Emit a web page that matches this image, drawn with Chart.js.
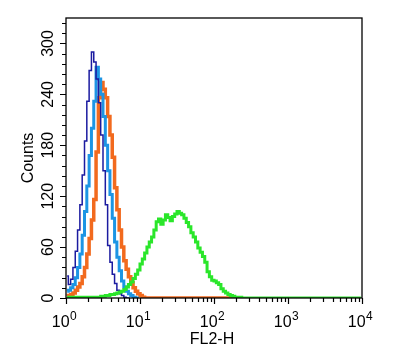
<!DOCTYPE html>
<html>
<head>
<meta charset="utf-8">
<script src="https://cdn.jsdelivr.net/npm/chart.js@4"></script>
<style>
  body { margin: 0; background: #fff; }
  #box { width: 400px; height: 354px; }
</style>
</head>
<body>
<div id="box"><canvas id="histo" width="400" height="354"></canvas></div>
<script>
const BINS_PER_DECADE = 32;
const NUM_BINS = 128;

// counts per channel, starting at channel 0 (FL2-H = 10^0)
const navyCounts = [26, 16, 22, 36, 55, 80, 110, 145, 185, 232, 268, 290, 278, 258, 230, 192,
  150, 110, 62, 42, 28, 17, 9, 5, 3, 1, 0, 0];
const lightBlueCounts = [8, 9, 12, 16, 24, 36, 52, 74, 102, 132, 168, 200, 232, 272, 258, 240,
  214, 180, 150, 122, 94, 66, 48, 32, 20, 13, 8, 5, 3, 1, 0, 0];
const orangeCounts = [2, 3, 4, 6, 9, 13, 17, 25, 36, 52, 70, 92, 116, 172, 236, 254,
  246, 236, 214, 192, 166, 130, 104, 80, 60, 44, 34, 25, 18, 12, 8, 5,
  3, 1, 0, 0, 0, 0, 0, 0, 0, 0, 0, 0, 0, 0, 0, 0,
  0, 0, 0, 0, 0, 0, 0, 0, 0, 0, 0, 0, 0, 0, 0, 0,
  0, 0, 0, 0, 0, 0, 0, 0, 0, 0];
const greenCounts = [1, 1, 1, 1, 1, 1, 1, 1, 1, 1, 1, 1, 1, 1, 1, 2,
  2, 3, 3, 4, 4, 5, 6, 7, 8, 10, 13, 16, 19, 23, 28, 33,
  40, 46, 53, 60, 66, 72, 80, 90, 93, 87, 92, 98, 95, 91, 96, 99,
  102, 100, 98, 94, 89, 84, 77, 72, 66, 59, 54, 49, 42, 31, 25, 21,
  20, 18, 16, 11, 8, 6, 4, 3, 2, 1, 1, 1, 0, 0, 0, 0,
  0, 0, 0, 0, 0, 0, 0, 0, 0, 0, 0, 0, 0, 0, 0, 0,
  0, 0, 0, 0, 0, 0, 0, 0, 0, 0, 0, 0, 0, 0, 0, 0,
  0, 0, 0, 0, 0, 0, 0, 0, 0, 0, 0, 0, 0, 0, 0, 0];

const xDecades = [1, 10, 100, 1000, 10000];
const xExponents = ['0', '1', '2', '3', '4'];
const yTicks = [0, 60, 120, 180, 240, 300];
const yMinorStep = 12;
const yMax = 330;

const channels = [];
for (let i = 0; i < NUM_BINS; i++) {
  channels.push(Math.pow(10, (i + 0.5) / BINS_PER_DECADE));
}
function toPoints(counts) {
  return counts.map((c, i) => ({ x: channels[i], y: c }));
}

const FONT = '"Liberation Sans", Arial, Helvetica, sans-serif';

const axesPlugin = {
  id: 'axes',
  afterDraw(chart) {
    const c = chart.ctx;
    const a = chart.chartArea;
    const xs = chart.scales.x;
    const ys = chart.scales.y;
    c.save();
    c.strokeStyle = '#000';
    c.fillStyle = '#000';
    c.lineWidth = 1.3;
    c.strokeRect(a.left, a.top, a.right - a.left, a.bottom - a.top);

    // x ticks (log, minor 2..9)
    c.lineWidth = 1.2;
    c.beginPath();
    for (let d = 0; d < xDecades.length; d++) {
      const base = xDecades[d];
      const px = Math.round(xs.getPixelForValue(base)) + 0.5;
      c.moveTo(px, a.bottom);
      c.lineTo(px, a.bottom + 6);
      if (d < xDecades.length - 1) {
        for (let m = 2; m <= 9; m++) {
          const mx = Math.round(xs.getPixelForValue(base * m)) + 0.5;
          c.moveTo(mx, a.bottom);
          c.lineTo(mx, a.bottom + 4);
        }
      }
    }
    // y ticks
    for (let v = 0; v <= yMax; v += yMinorStep) {
      const py = Math.round(ys.getPixelForValue(v)) + 0.5;
      c.moveTo(a.left, py);
      c.lineTo(a.left - (yTicks.includes(v) ? 6 : 4), py);
    }
    c.stroke();

    // x tick labels 10^n
    c.textBaseline = 'alphabetic';
    c.textAlign = 'left';
    xDecades.forEach((v, i) => {
      const px = xs.getPixelForValue(v);
      c.font = '16px ' + FONT;
      const w1 = c.measureText('10').width;
      c.font = '12px ' + FONT;
      const w2 = c.measureText(xExponents[i]).width;
      const start = px - (w1 + w2) / 2 - 2;
      c.font = '16px ' + FONT;
      c.fillText('10', start, 327);
      c.font = '12px ' + FONT;
      c.fillText(xExponents[i], start + w1 + 0.5, 320);
    });

    // x title
    c.font = '16px ' + FONT;
    c.textAlign = 'center';
    c.fillText('FL2-H', (a.left + a.right) / 2 - 2, 344);

    // y tick labels, rotated
    yTicks.forEach(v => {
      const py = ys.getPixelForValue(v);
      c.save();
      c.translate(52.5, py);
      c.rotate(-Math.PI / 2);
      c.fillText(String(v), 0, 0);
      c.restore();
    });

    // y title
    c.save();
    c.translate(33, (a.top + a.bottom) / 2);
    c.rotate(-Math.PI / 2);
    c.fillText('Counts', 0, 0);
    c.restore();
    c.restore();
  }
};

const ctx = document.getElementById('histo');

new Chart(ctx, {
  type: 'line',
  data: {
    datasets: [
      { label: 'green', data: toPoints(greenCounts), borderColor: '#2ae62a', borderWidth: 3 },
      { label: 'navy', data: toPoints(navyCounts), borderColor: '#1b1ba0', borderWidth: 1.5 },
      { label: 'light blue', data: toPoints(lightBlueCounts), borderColor: '#1d95e4', borderWidth: 3 },
      { label: 'orange', data: toPoints(orangeCounts), borderColor: '#f26a1e', borderWidth: 3.5 }
    ]
  },
  options: {
    responsive: false,
    animation: false,
    layout: { padding: { left: 66, top: 18, right: 38, bottom: 56 } },
    elements: {
      point: { radius: 0 },
      line: { stepped: 'middle', tension: 0, borderJoinStyle: 'miter' }
    },
    scales: {
      x: { type: 'logarithmic', min: 1, max: 10000, display: false },
      y: { min: 0, max: yMax, display: false }
    },
    plugins: {
      legend: { display: false },
      tooltip: { enabled: false }
    }
  },
  plugins: [axesPlugin]
});
</script>
</body>
</html>
